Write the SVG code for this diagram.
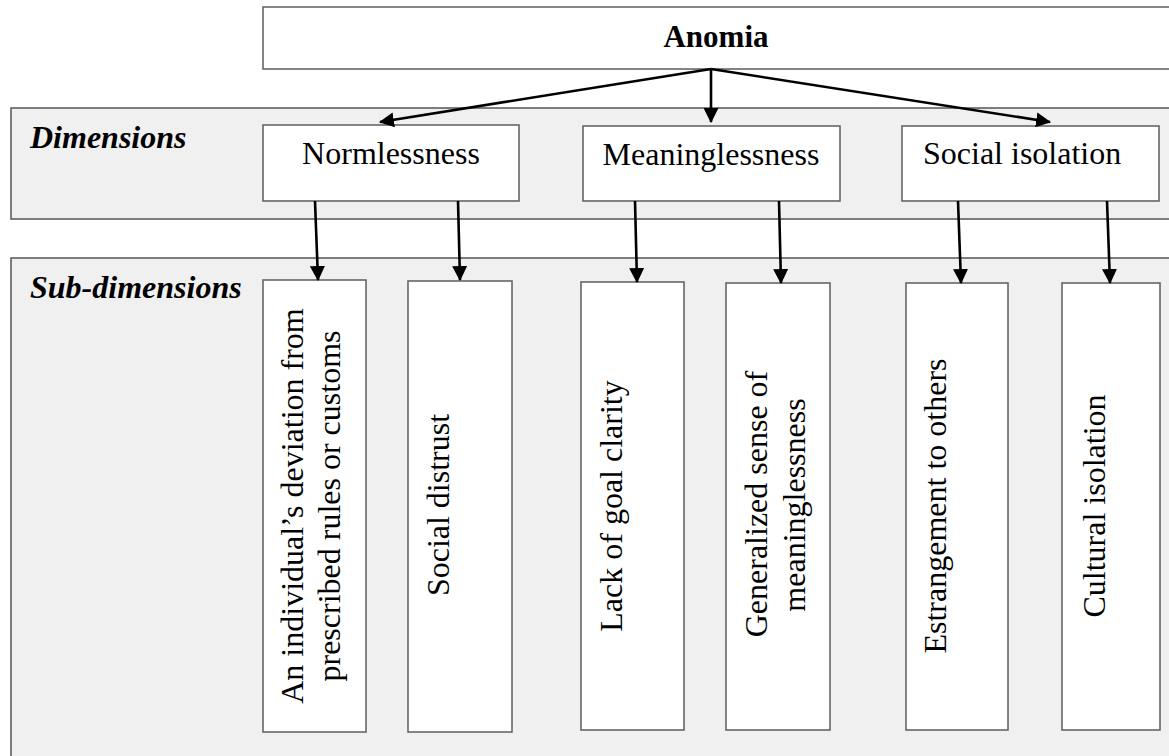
<svg xmlns="http://www.w3.org/2000/svg" width="1169" height="756" viewBox="0 0 1169 756">
  <style>
    .band { fill: #f0f0f0; stroke: #555; stroke-width: 1.5; }
    .box { fill: #ffffff; stroke: #666; stroke-width: 1.6; }
    .lbl { font-family: "Liberation Serif", "Times New Roman", serif; font-size: 32px; fill: #000; }
    .head { font-family: "Liberation Serif", "Times New Roman", serif; font-size: 32px; font-weight: bold; font-style: italic; fill: #000; }
    .title { font-family: "Liberation Serif", "Times New Roman", serif; font-size: 31px; font-weight: bold; fill: #000; }
    .conn { stroke: #000; stroke-width: 2.6; fill: none; marker-end: url(#arrow); }
  </style>
  <defs>
    <marker id="arrow" viewBox="0 0 14 14" refX="13" refY="7" markerWidth="15" markerHeight="15" markerUnits="userSpaceOnUse" orient="auto">
      <path d="M0,0 L14,7 L0,14 z" fill="#000"/>
    </marker>
  </defs>

  <rect width="1169" height="756" fill="#ffffff"/>

  <!-- background bands -->
  <g id="band-dimensions">
    <rect class="band" x="11" y="108" width="1170" height="111"/>
    <text class="head" x="30" y="148">Dimensions</text>
  </g>
  <g id="band-subdimensions">
    <rect class="band" x="11" y="258" width="1170" height="510"/>
    <text class="head" x="30" y="298">Sub-dimensions</text>
  </g>

  <!-- root -->
  <g id="anomia">
    <rect class="box" x="263" y="7" width="920" height="62"/>
    <text class="title" x="716" y="47" text-anchor="middle">Anomia</text>
  </g>

  <!-- dimensions -->
  <g id="normlessness">
    <rect class="box" x="263" y="125" width="256" height="76"/>
    <text class="lbl" x="391" y="164" text-anchor="middle">Normlessness</text>
  </g>
  <g id="meaninglessness">
    <rect class="box" x="583" y="126" width="257" height="75"/>
    <text class="lbl" x="711" y="165" text-anchor="middle">Meaninglessness</text>
  </g>
  <g id="social-isolation">
    <rect class="box" x="902" y="126" width="257" height="75"/>
    <text class="lbl" x="923" y="164">Social isolation</text>
  </g>

  <!-- sub-dimensions -->
  <g id="deviation">
    <rect class="box" x="263" y="280" width="103" height="452"/>
    <text class="lbl" text-anchor="middle" transform="translate(303,506) rotate(-90)">An individual’s deviation from</text>
    <text class="lbl" text-anchor="middle" transform="translate(340,506) rotate(-90)">prescribed rules or customs</text>
  </g>
  <g id="social-distrust">
    <rect class="box" x="408" y="281" width="104" height="451"/>
    <text class="lbl" text-anchor="middle" transform="translate(449,505) rotate(-90)">Social distrust</text>
  </g>
  <g id="goal-clarity">
    <rect class="box" x="581" y="282" width="103" height="448"/>
    <text class="lbl" text-anchor="middle" transform="translate(622,506) rotate(-90)">Lack of goal clarity</text>
  </g>
  <g id="generalized-meaninglessness">
    <rect class="box" x="726" y="283" width="104" height="447"/>
    <text class="lbl" text-anchor="middle" transform="translate(767,504) rotate(-90)">Generalized sense of</text>
    <text class="lbl" text-anchor="middle" transform="translate(805,505) rotate(-90)">meaninglessness</text>
  </g>
  <g id="estrangement">
    <rect class="box" x="906" y="283" width="102" height="447"/>
    <text class="lbl" text-anchor="middle" transform="translate(946,506) rotate(-90)">Estrangement to others</text>
  </g>
  <g id="cultural-isolation">
    <rect class="box" x="1062" y="283" width="98" height="447"/>
    <text class="lbl" text-anchor="middle" transform="translate(1105,506) rotate(-90)">Cultural isolation</text>
  </g>

  <!-- connectors -->
  <g id="connectors">
    <line class="conn" x1="711" y1="69" x2="380" y2="122"/>
    <line class="conn" x1="711" y1="69" x2="711" y2="122"/>
    <line class="conn" x1="711" y1="69" x2="1050" y2="122"/>
    <line class="conn" x1="315" y1="201" x2="318" y2="280"/>
    <line class="conn" x1="458" y1="201" x2="460" y2="280"/>
    <line class="conn" x1="635" y1="201" x2="637" y2="282"/>
    <line class="conn" x1="779" y1="201" x2="781" y2="283"/>
    <line class="conn" x1="958" y1="201" x2="961" y2="283"/>
    <line class="conn" x1="1107" y1="201" x2="1110" y2="283"/>
  </g>
</svg>
